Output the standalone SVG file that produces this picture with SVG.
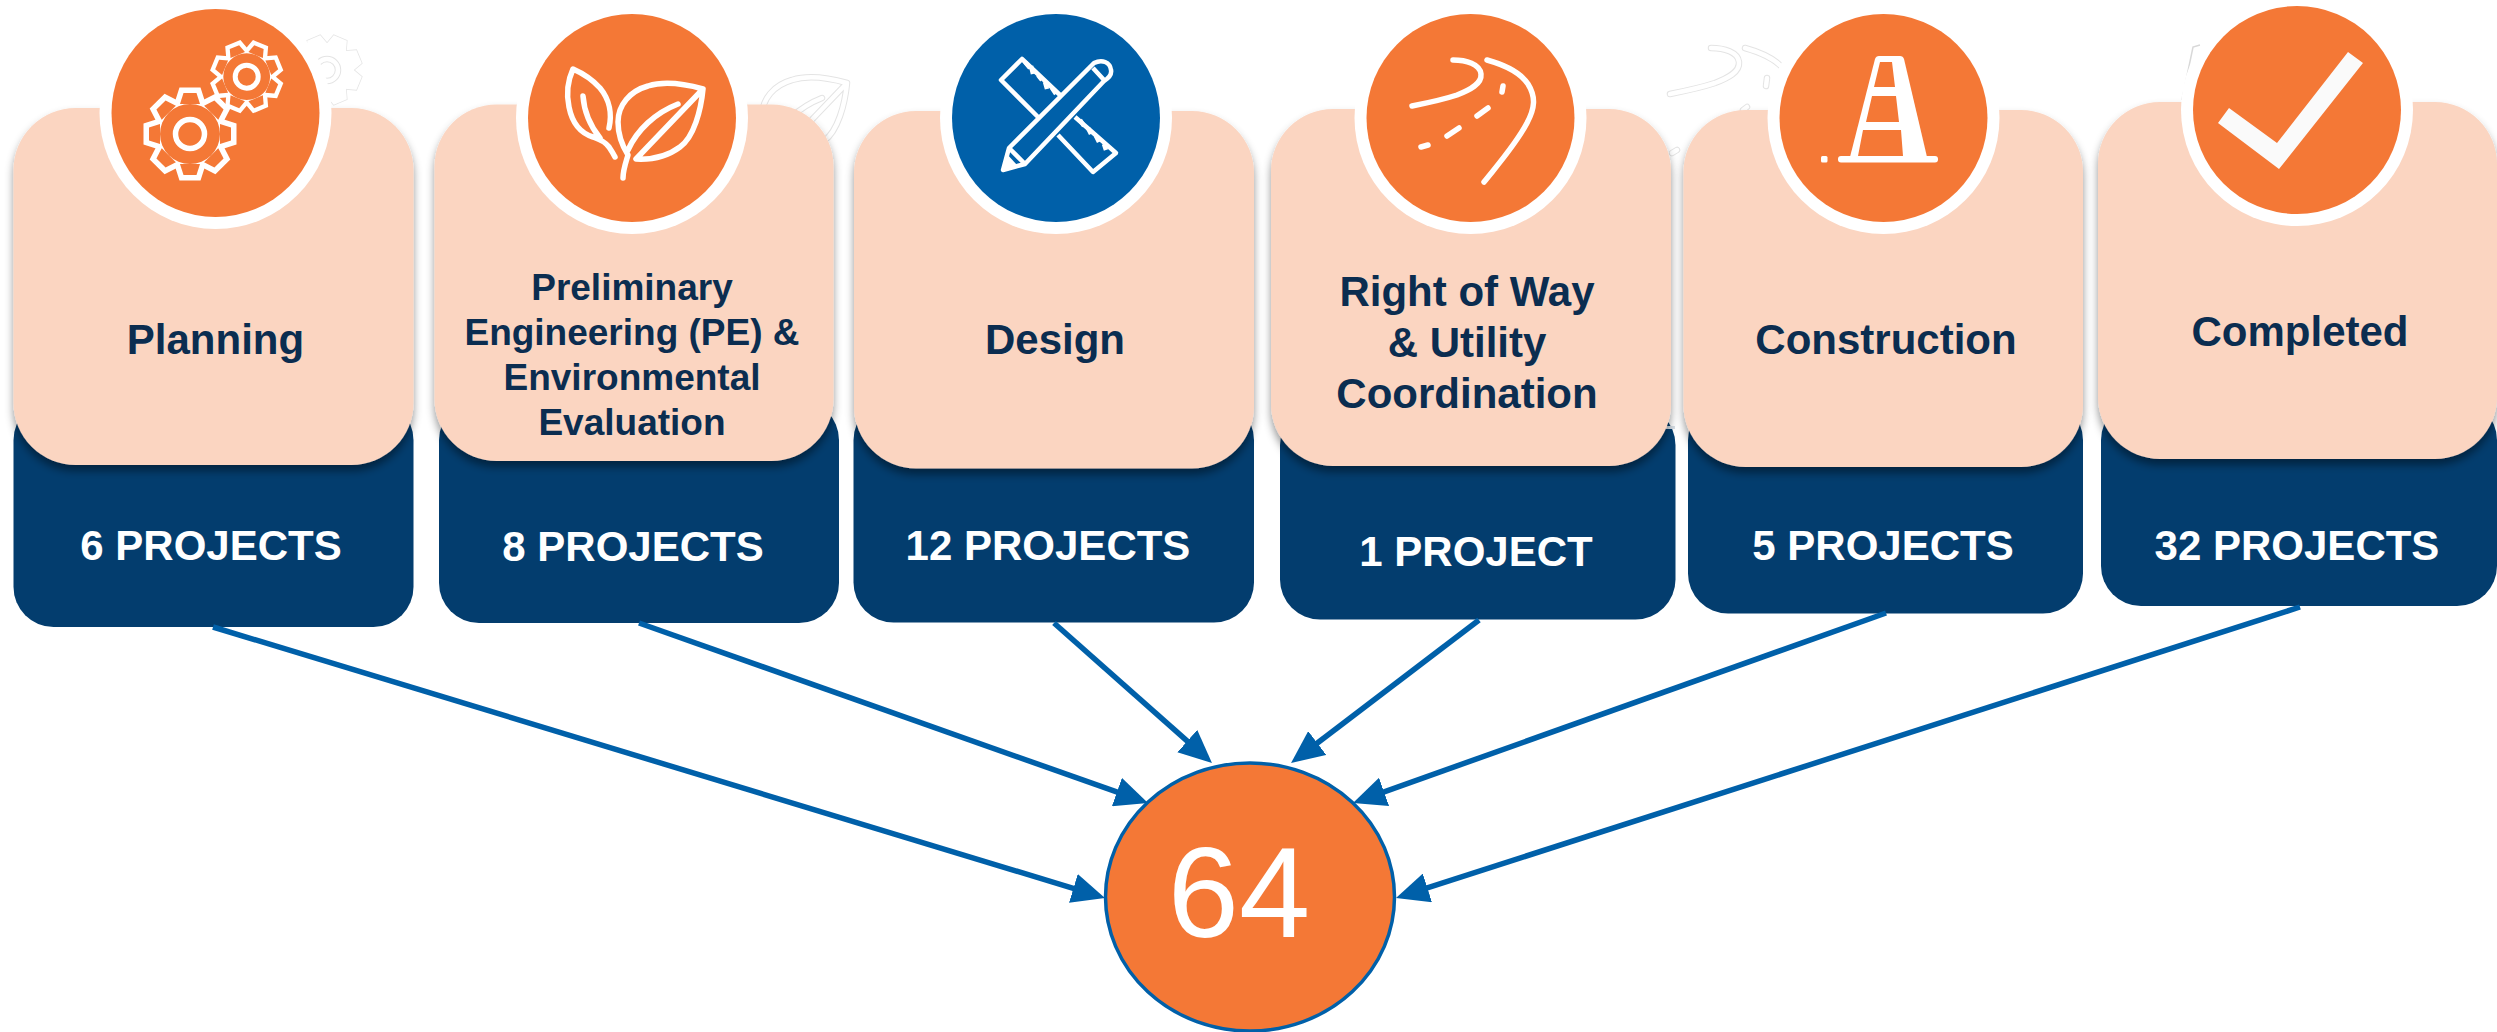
<svg xmlns="http://www.w3.org/2000/svg" xmlns:xlink="http://www.w3.org/1999/xlink" width="2497" height="1032" viewBox="0 0 2497 1032">
<style>
text{font-family:"Liberation Sans",Arial,sans-serif;text-anchor:middle}
.h{font-weight:700;fill:#0b2d50;font-size:42px}
.pe{font-size:37px}
.n{font-weight:700;fill:#fff;font-size:42px}
.navy{fill:#033d6e}
.pink{fill:#fbd5c1;filter:url(#sh)}
.ring{fill:#fff}
.o{fill:#f47836}
.b{fill:#0060a9}
.ic{fill:none;stroke:#fff;stroke-width:5.5;stroke-linecap:round;stroke-linejoin:round}
.g1{fill:none;stroke:#e4e4e4;stroke-width:6.5;stroke-linecap:round;stroke-linejoin:round}
.g2{fill:none;stroke:#fff;stroke-width:4.5;stroke-linecap:round;stroke-linejoin:round}
.c{fill:none;stroke:#0060a9;stroke-width:5.5;marker-end:url(#ah)}
</style>
<defs>
<filter id="sh" x="-10%" y="-10%" width="120%" height="125%"><feDropShadow dx="0" dy="6" stdDeviation="4.500" flood-color="#000" flood-opacity=".42"/></filter>
<marker id="ah" markerUnits="userSpaceOnUse" markerWidth="33" markerHeight="30" refX="23" refY="15" orient="auto"><path d="M0 0L33 15L0 30z" fill="#0060a9"/></marker>
<path id="t" d="M-10 -30L-6.500 -41H6.500L10 -30z"/>
<g id="gear">
<circle r="30"/>
<use xlink:href="#t"/><use xlink:href="#t" transform="rotate(45)"/><use xlink:href="#t" transform="rotate(90)"/><use xlink:href="#t" transform="rotate(135)"/><use xlink:href="#t" transform="rotate(180)"/><use xlink:href="#t" transform="rotate(225)"/><use xlink:href="#t" transform="rotate(270)"/><use xlink:href="#t" transform="rotate(315)"/>
</g>
<path id="leafR" d="M703 89C685 84 664 81 648 86C630 91 618 105 618 122C618 135 623 147 628 155C626 162 623 170 623 178M636 159C655 160 668 156 680 147C694 137 701 110 703 89ZM678 104C655 113 637 130 628 150"/>
<path id="roadL" d="M1453 60C1466 60 1480 64 1481 74C1482 84 1470 90 1457 95C1442 100 1427 103 1412 106"/>
<path id="roadR" d="M1487 60C1505 65 1520 72 1528 84C1536 97 1535 108 1527 123C1516 144 1500 162 1484 182"/>
</defs>
<rect width="2497" height="1032" fill="#fff"/>

<g id="ghost-shapes">
<g transform="translate(327 70) scale(.78) rotate(22.5)"><use xlink:href="#gear" fill="#fff" stroke="#e6e6e6" stroke-width="9"/><use xlink:href="#gear" fill="#fff" stroke="#fff" stroke-width="7"/></g>
<circle cx="327" cy="70" r="11" class="g1"/><circle cx="327" cy="70" r="11" class="g2"/>
<g transform="translate(144 -6)"><use xlink:href="#leafR" class="g1"/><use xlink:href="#leafR" class="g2"/></g>
<g transform="translate(258 -12)"><use xlink:href="#roadL" class="g1"/><use xlink:href="#roadL" class="g2"/><use xlink:href="#roadR" class="g1"/><use xlink:href="#roadR" class="g2"/></g>
<path d="M1767 78L1766 86M1747 107L1743 110M1677 150L1672 153" class="g1"/><path d="M1767 78L1766 86M1747 107L1743 110M1677 150L1672 153" class="g2"/>
<path d="M2200 45L2193 47L2182 100" fill="none" stroke="#d8d8d8" stroke-width="1.500"/>
</g>

<g id="node-planning">
<rect class="navy" x="13.500" y="400" width="400" height="227" rx="40"/>
<rect class="pink" x="13.500" y="108" width="400" height="357" rx="62"/>
<circle class="ring" cx="215.500" cy="113" r="116"/><circle class="o" cx="215.500" cy="113" r="104"/>
<g transform="translate(246.700 76.700) scale(.78) rotate(22.5)"><use xlink:href="#gear" fill="#f47836" stroke="#fff" stroke-width="11"/><use xlink:href="#gear" fill="#f47836"/></g>
<circle cx="246.700" cy="76.700" r="11.500" fill="none" stroke="#fff" stroke-width="5"/>
<g transform="translate(190 134)"><use xlink:href="#gear" fill="#f47836" stroke="#fff" stroke-width="11"/><use xlink:href="#gear" fill="#f47836"/></g>
<circle cx="190" cy="134" r="14.500" fill="none" stroke="#fff" stroke-width="5.500"/>
<text class="h" x="215.500" y="354">Planning</text>
<text class="n" x="211" y="560">6 PROJECTS</text>
</g>

<g id="node-pe">
<rect class="navy" x="439" y="400" width="400" height="223" rx="40"/>
<rect class="pink" x="434.500" y="104.500" width="399" height="356.500" rx="62"/>
<circle class="ring" cx="632" cy="118" r="116"/><circle class="o" cx="632" cy="118" r="104"/>
<path class="ic" d="M609 128C612 115 610 100 600 88C592 79 582 73 573 69C568 80 566 93 569 107C572 122 580 133 593 137C602 140 606 143 609 147C611 150 613 153 615 157M583 96C584 110 588 123 600 138"/>
<use xlink:href="#leafR" class="ic"/>
<g class="h pe">
<text x="632" y="300">Preliminary</text>
<text x="632" y="345">Engineering (PE) &amp;</text>
<text x="632" y="390">Environmental</text>
<text x="632" y="435">Evaluation</text>
</g>
<text class="n" x="633" y="561">8 PROJECTS</text>
</g>

<g id="node-design">
<rect class="navy" x="853.500" y="400" width="400.500" height="222.500" rx="40"/>
<rect class="pink" x="854" y="111" width="400" height="357.500" rx="62"/>
<circle class="ring" cx="1056" cy="118" r="116"/><circle class="b" cx="1056" cy="118" r="104"/>
<g fill="none" stroke="#fff" stroke-width="4.500" stroke-linejoin="round">
<path d="M1060 95L1022 59L1001 80L1040 119"/>
<path d="M1075 117L1116 153L1093 172L1058 135"/>
<path d="M1003 170L1009 148L1094 63C1102 59 1110 62 1111 70C1112 75 1109 78 1104 81L1025 164Z"/>
<path d="M1093 68L1104 80M1009 148L1025 164"/>
<path d="M1025 62L1030 68M1031 66L1033 74M1038 75L1042 80M1045 82L1047 89M1052 88L1056 94M1080 120L1084 126M1088 128L1091 134M1096 136L1099 142M1104 144L1106 150"/>
</g>
<path d="M1003 170L1006 153L1017 165Z" fill="#fff"/>
<text class="h" x="1055" y="354">Design</text>
<text class="n" x="1048" y="560">12 PROJECTS</text>
</g>

<g id="node-row">
<rect class="navy" x="1280" y="405" width="395.500" height="214.500" rx="40"/>
<rect x="1666" y="426" width="9" height="3" fill="#d8dfe6"/>
<rect class="pink" x="1271" y="109" width="400" height="357" rx="62"/>
<circle class="ring" cx="1470.500" cy="118" r="116"/><circle class="o" cx="1470.500" cy="118" r="104"/>
<g class="ic"><use xlink:href="#roadL"/><use xlink:href="#roadR"/>
<path d="M1503 86L1502 92M1477 116L1488 108M1447 136L1459 128M1421 147L1428 145"/></g>
<text class="h" x="1467" y="306">Right of Way</text>
<text class="h" x="1467" y="357">&amp; Utility</text>
<text class="h" x="1467" y="408">Coordination</text>
<text class="n" x="1476" y="566">1 PROJECT</text>
</g>

<g id="node-construction">
<rect class="navy" x="1688" y="400" width="395" height="213.500" rx="40"/>
<rect class="pink" x="1683.500" y="110" width="399.500" height="357" rx="62"/>
<circle class="ring" cx="1883.500" cy="118" r="116"/><circle class="o" cx="1883.500" cy="118" r="104"/>
<path fill="#fff" d="M1879 56H1900Q1903 56 1904 59L1927 157H1850L1875 59Q1876 56 1879 56Z"/>
<path class="o" d="M1880 62H1892L1895 87H1874ZM1872 96H1896L1899 122H1866ZM1863 130H1901L1903 156H1858Z"/>
<rect x="1838" y="156" width="100" height="6.500" rx="3" fill="#fff"/>
<rect x="1821" y="156" width="6.500" height="6.500" rx="1.500" fill="#fff"/>
<text class="h" x="1886" y="354">Construction</text>
<text class="n" x="1883" y="560">5 PROJECTS</text>
</g>

<g id="node-completed">
<rect class="navy" x="2101" y="400" width="396" height="206" rx="40"/>
<rect class="pink" x="2098" y="102" width="399" height="357" rx="62"/>
<circle class="ring" cx="2297" cy="110" r="116"/><circle class="o" cx="2297" cy="110" r="104"/>
<path fill="#fafafa" d="M2348 52L2363 63L2279 169L2218 123L2229 108L2277 143Z"/>
<text class="h" x="2300" y="346">Completed</text>
<text class="n" x="2297" y="560">32 PROJECTS</text>
</g>

<g id="connectors">
<path class="c" d="M213 627L1095.400 895.100"/>
<path class="c" d="M639 623L1138.600 799.700"/>
<path class="c" d="M1054 623L1204.500 756.400"/>
<path class="c" d="M1479 620L1299 757"/>
<path class="c" d="M1886 613L1362.400 799.600"/>
<path class="c" d="M2300 607L1405.500 894.900"/>
</g>

<g id="node-total">
<ellipse cx="1250" cy="897" rx="144.500" ry="134" fill="#f47836" stroke="#0060a9" stroke-width="3.500"/>
<text x="1239" y="937" font-size="128" fill="#fff">64</text>
</g>
</svg>
